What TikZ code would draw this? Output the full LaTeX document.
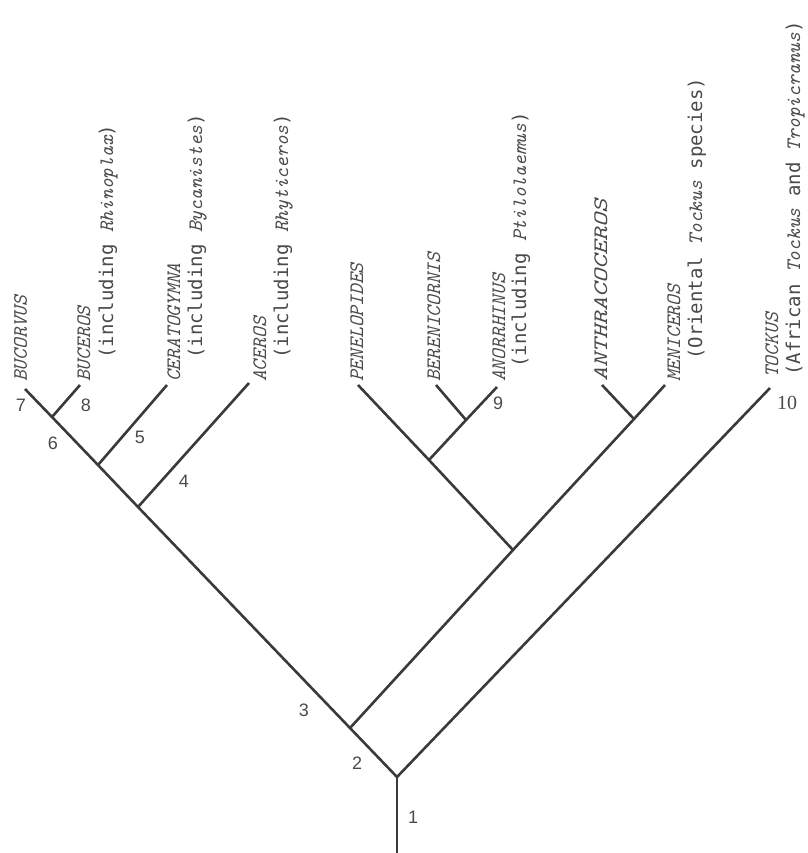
\documentclass[tikz,border=0pt]{standalone}
\usepackage{fontspec}
\usepackage{graphicx}
\setmonofont{Latin Modern Mono}
\newfontfamily\upmono{DejaVu Sans Mono}
\newfontfamily\numsans{Liberation Sans}
\newfontfamily\numserif{Liberation Serif}
\definecolor{linegray}{HTML}{3A3A3A}
\definecolor{textgray}{HTML}{4A4A4A}
\newcommand\gn[1]{{\ttfamily\itshape\fontsize{20.5}{24}\selectfont #1}}
\newcommand\up[1]{{\upmono\fontsize{19}{24}\selectfont #1}}
\tikzset{
  br/.style={line width=2.6pt, draw=linegray},
  tx/.style={rotate=90, anchor=base west, inner sep=0pt, text=textgray},
  num/.style={inner sep=0pt, text=textgray, font=\numsans\fontsize{18}{18}\selectfont},
}
\begin{document}
\begin{tikzpicture}[x=1pt,y=-1pt]
\useasboundingbox (0,0) rectangle (807,853);
% junctions and tips
\coordinate (base) at (397,853);
\coordinate (root) at (397,777);
\coordinate (n3) at (350,728);
\coordinate (n4) at (138,507);
\coordinate (n5) at (98,465);
\coordinate (n6) at (52,417);
\coordinate (tBucorvus) at (25,389);
\coordinate (tBuceros) at (80,385);
\coordinate (tCerato) at (167,385);
\coordinate (tAceros) at (249,383);
\coordinate (tTock) at (770,388);
\coordinate (nP) at (513,550);
\coordinate (nAM) at (634,419);
\coordinate (tMen) at (665,385);
\coordinate (tAnth) at (602,385);
\coordinate (nPen) at (429,460);
\coordinate (tPen) at (358,385);
\coordinate (nBA) at (466,420);
\coordinate (tBer) at (436,385);
\coordinate (tAno) at (497,387);
% branches
\draw[br] (base) -- (root);
\draw[br] (root) -- (n3) -- (n4) -- (n5) -- (n6) -- (tBucorvus);
\draw[br] (root) -- (tTock);
\draw[br] (n6) -- (tBuceros);
\draw[br] (n5) -- (tCerato);
\draw[br] (n4) -- (tAceros);
\draw[br] (n3) -- (nP) -- (nAM) -- (tMen);
\draw[br] (nAM) -- (tAnth);
\draw[br] (nP) -- (nPen) -- (tPen);
\draw[br] (nPen) -- (nBA) -- (tAno);
\draw[br] (nBA) -- (tBer);
% taxon labels
\node[tx] (lBucorvus) at (27,382) {\gn{BUCORVUS}};
\node[tx] (lBuceros) at (90,382) {\gn{BUCEROS}};
\node[tx] (lBuceros2) at (113,359) {\up{(including }\gn{Rhinoplax}\up{)}};
\node[tx] (lCerato) at (180,382) {\gn{CERATOGYMNA}};
\node[tx] (lCerato2) at (202,359) {\up{(including }\gn{Bycanistes}\up{)}};
\node[tx] (lAceros) at (266,382) {\gn{ACEROS}};
\node[tx] (lAceros2) at (288,359) {\up{(including }\gn{Rhyticeros}\up{)}};
\node[tx] (lPen) at (363,382) {\gn{PENELOPIDES}};
\node[tx] (lBer) at (440,382) {\gn{BERENICORNIS}};
\node[tx] (lAno) at (505,382) {\gn{ANORRHINUS}};
\node[tx] (lAno2) at (526,368) {\up{(including }\gn{Ptilolaemus}\up{)}};
\node[tx] (lAnth) at (607,382) {\scalebox{1.3}[1]{\gn{ANTHRACOCEROS}}};
\node[tx] (lMen) at (680,382) {\gn{MENICEROS}};
\node[tx] (lMen2) at (702,360) {\up{(Oriental }\gn{Tockus}\up{ species)}};
\node[tx] (lTock) at (778,378) {\gn{TOCKUS}};
\node[tx] (lTock2) at (800,376) {\up{(African }\gn{Tockus}\up{ and }\gn{Tropicranus}\up{)}};
% branch numbers
\node[num] (k1) at (413,817) {1};
\node[num] (k2) at (357,763) {2};
\node[num] (k3) at (304,710) {3};
\node[num] (k4) at (184,481) {4};
\node[num] (k5) at (140,437) {5};
\node[num] (k6) at (53,443) {6};
\node[num] (k7) at (21,405) {7};
\node[num] (k8) at (86,405) {8};
\node[num] (k9) at (498,403) {9};
\node[num, font=\numserif\fontsize{20}{20}\selectfont] (k10) at (787,403) {10};
\end{tikzpicture}
\end{document}
